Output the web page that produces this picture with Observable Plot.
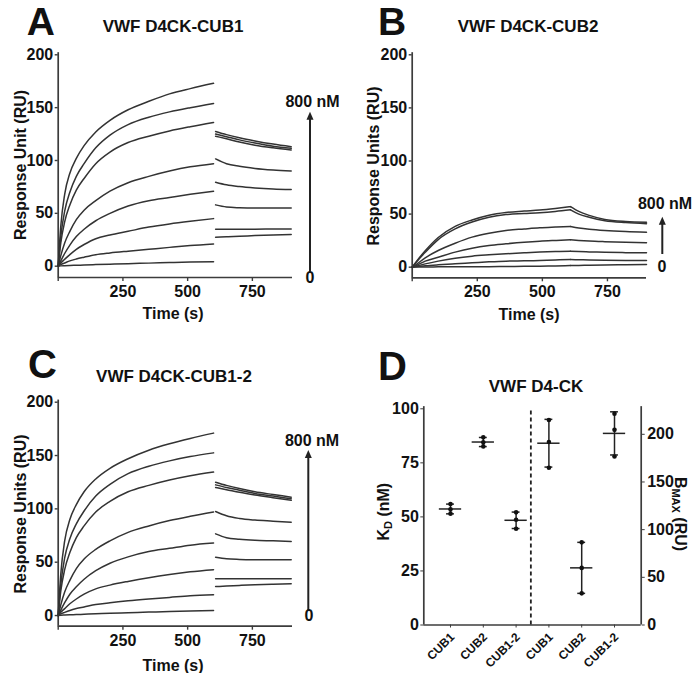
<!DOCTYPE html>
<html><head><meta charset="utf-8">
<script src="https://cdn.jsdelivr.net/npm/d3@7"></script>
<script src="https://cdn.jsdelivr.net/npm/@observablehq/plot@0.6"></script>
<style>
html,body{margin:0;padding:0;background:#fff;}
#fig{position:relative;width:700px;height:673px;overflow:hidden;background:#fff;}
.panel{position:absolute;}
.panel svg{display:block;max-width:none !important;}
#overlay{position:absolute;left:0;top:0;pointer-events:none;}
</style></head><body><div id="fig"></div>
<script>
// ---------- DATA ----------
// Sensorgram time grids (s)
const timeAssoc = [0, 10, 25, 45, 70, 100, 145, 200, 270, 350, 430, 510, 600];
const timeDissoc = [608, 650, 700, 760, 830, 900];
const timeAssocB = [0, 15, 50, 100, 165, 230, 295, 360, 430, 490, 550, 608];
const timeDissocB = [608, 640, 680, 740, 820, 900];

// Panel A: VWF D4CK-CUB1 (highest concentration first)
const cub1Assoc = [
  [0, 38, 68, 88, 102, 114, 127, 138, 148, 156, 163, 168, 173],
  [0, 28, 52, 70, 85, 97, 112, 124, 134, 141, 146, 150, 154],
  [0, 22, 42, 58, 72, 83, 97, 108, 117, 123, 128, 132, 136],
  [0, 10, 22, 33, 44, 53, 62, 71, 79, 85, 90, 94, 97],
  [0, 5, 12, 20, 28, 35, 43, 50, 57, 62, 65, 68, 71],
  [0, 3, 6.5, 11, 16, 20.5, 26, 29.5, 33, 37, 40, 42.5, 45],
  [0, 1.5, 3, 5, 6.8, 8.5, 10.8, 12.5, 14.2, 16, 17.8, 19.5, 21],
  [0, 0.3, 0.5, 0.7, 0.9, 1.1, 1.5, 1.9, 2.4, 2.9, 3.4, 3.9, 4.3]
];
const cub1Dissoc = [
  [127.5, 124.5, 121.5, 118.5, 115.5, 113],
  [125, 122.5, 119.5, 116.5, 113.5, 111.5],
  [123, 120.5, 117.5, 114.5, 112, 110],
  [101.5, 97, 94.5, 92.5, 91, 90],
  [79.5, 77, 75.3, 74, 73, 72.5],
  [58, 56, 55.3, 55, 55, 55],
  [35, 35, 35, 35, 35.2, 35.3],
  [27.4, 27.8, 28.3, 29, 29.6, 30]
];

// Panel B: VWF D4CK-CUB2
const cub2Assoc = [
  [0, 5, 15.5, 28, 38.5, 44.5, 49, 51.5, 52.8, 53.8, 55.3, 57],
  [0, 4.5, 14, 26, 36, 42.5, 47, 49.5, 50.5, 51.3, 52.5, 54],
  [0, 2.5, 8.8, 15.7, 22.6, 28.3, 32, 34.6, 36, 37.1, 37.8, 38.4],
  [0, 1.5, 5.7, 9.4, 14.2, 17.9, 20.4, 22, 23.5, 24.5, 25.2, 25.8],
  [0, 1, 3.1, 5.7, 8.5, 10.4, 11.6, 12.6, 13.5, 14.2, 14.7, 15.1],
  [0, 0.5, 1.3, 2.2, 3.2, 4.1, 5, 5.7, 6, 6.3, 6.8, 7.2],
  [0, 0.1, 0.2, 0.3, 0.3, 0.3, 0.5, 0.7, 0.8, 0.9, 1.2, 1.6]
];
const cub2Dissoc = [
  [57, 52.5, 48.8, 45, 43, 42.3],
  [54, 50, 47, 43.8, 42, 41],
  [38.4, 37, 35.8, 34.6, 33.6, 33],
  [25.8, 25.2, 24.6, 24, 23.4, 23],
  [15.1, 14.7, 14.4, 14, 13.7, 13.5],
  [7.2, 7, 6.8, 6.6, 6.4, 6.3],
  [1.6, 1.7, 1.9, 2.1, 2.3, 2.5]
];

// Panel C: VWF D4CK-CUB1-2
const cub12Assoc = [
  [0, 39, 70, 90, 104, 116, 128, 138, 147, 155, 161, 166, 171],
  [0, 29, 54, 72, 86, 98, 112, 123, 133, 140, 145, 149, 152.5],
  [0, 23, 43, 59, 73, 84, 97, 107, 116, 122, 127, 131, 134.5],
  [0, 10, 22, 33, 44, 53, 62, 70, 78, 84, 89, 93, 97],
  [0, 5, 12, 20, 27, 34, 42, 49, 55, 60, 63, 66, 68],
  [0, 3, 6.5, 11, 15.5, 20, 25, 28.5, 32, 35.5, 38.5, 41, 43],
  [0, 1.5, 3, 4.8, 6.5, 8, 10.3, 12, 13.8, 15.5, 17, 18.5, 19.5],
  [0, 0.3, 0.5, 0.7, 0.9, 1.2, 1.6, 2.1, 2.6, 3.2, 3.8, 4.3, 4.7]
];
const cub12Dissoc = [
  [125, 122, 119, 116, 113.5, 111],
  [122.5, 120, 117.5, 114.5, 112, 109.5],
  [120, 118, 115.5, 113, 110.5, 108],
  [97.5, 93.5, 91, 89.5, 88.5, 87.5],
  [76.6, 73, 71.5, 70.5, 70, 69.4],
  [54.7, 53.2, 52.6, 52.3, 52.2, 52.2],
  [34.4, 34.4, 34.4, 34.5, 34.5, 34.5],
  [27.2, 27.6, 28.2, 28.8, 29.3, 29.7]
];

const timeTicks = [0, 250, 500, 750];
const ruTicks = [0, 50, 100, 150, 200];

// Panel D: replicate KD (nM) and BMAX (RU)
const dCategories = ["CUB1", "CUB2", "CUB1-2", "CUB1", "CUB2", "CUB1-2"];
const kdCUB1 = [56, 53.5, 51.5];
const kdCUB2 = [86.8, 84.5, 82.6];
const kdCUB12 = [52.1, 48.7, 44.5];
const bmaxCUB1 = [215, 192, 165];
const bmaxCUB2 = [86.7, 59.9, 33.2];
const bmaxCUB12 = [221.5, 204.7, 176.7];
const kdTicks = [0, 25, 50, 75, 100];
const bmaxTicks = [0, 50, 100, 150, 200];

// ---------- STYLE ----------
const FONT = '"Liberation Sans", Arial, Helvetica, sans-serif';
const INK = "#111";
const AXIS = "#3c3c3c";
const CURVE = "#333";

const fig = document.getElementById("fig");
function place(node, left, top) {
  const d = document.createElement("div");
  d.className = "panel";
  d.style.left = left + "px";
  d.style.top = top + "px";
  d.appendChild(node);
  fig.appendChild(d);
}

function sensorPanel({assoc, dissoc, tA, tD, width, height, ml, mr, mt, mb, xMax, yMin}) {
  const rows = [];
  assoc.forEach((vals, k) => vals.forEach((v, j) => rows.push({t: tA[j], ru: v, s: "a" + k})));
  dissoc.forEach((vals, k) => vals.forEach((v, j) => rows.push({t: tD[j], ru: v, s: "d" + k})));
  return Plot.plot({
    width, height,
    marginLeft: ml, marginRight: mr, marginTop: mt, marginBottom: mb,
    x: {domain: [0, xMax]},
    y: {domain: [yMin, 200]},
    style: {fontFamily: FONT, fontSize: "16px", fontWeight: "bold", color: INK, background: "transparent", overflow: "visible"},
    marks: [
      Plot.ruleX([0], {y1: yMin, y2: 202, stroke: AXIS, strokeWidth: 1.7}),
      Plot.ruleY([yMin], {x1: 0, x2: xMax, stroke: AXIS, strokeWidth: 1.7}),
      Plot.axisY({ticks: ruTicks, tickSize: 3, tickPadding: 2, label: null, stroke: AXIS, strokeWidth: 1.4, fontSize: 16, fontWeight: "bold"}),
      Plot.axisX({ticks: timeTicks, tickFormat: d => d === 0 ? "" : d, tickSize: 4, tickPadding: 4, label: null, stroke: AXIS, strokeWidth: 1.4, fontSize: 16, fontWeight: "bold"}),
      Plot.line(rows, {x: "t", y: "ru", z: "s", curve: "monotone-x", stroke: CURVE, strokeWidth: 1.5})
    ]
  });
}

place(sensorPanel({assoc: cub1Assoc, dissoc: cub1Dissoc, tA: timeAssoc, tD: timeDissoc,
  width: 350, height: 330, ml: 57.7, mr: 58, mt: 54.3, mb: 53, xMax: 905, yMin: -10.7}), 0, 0);
place(sensorPanel({assoc: cub2Assoc, dissoc: cub2Dissoc, tA: timeAssocB, tD: timeDissocB,
  width: 350, height: 330, ml: 61.7, mr: 54, mt: 54.3, mb: 52.7, xMax: 900, yMin: -10}), 350, 0);
place(sensorPanel({assoc: cub12Assoc, dissoc: cub12Dissoc, tA: timeAssoc, tD: timeDissoc,
  width: 350, height: 343, ml: 57.7, mr: 58, mt: 71.7, mb: 47.3, xMax: 905, yMin: -10}), 0, 330);

// ---------- Panel D ----------
const K = 0.441;            // right-axis RU -> left-axis units
const XLO = 0.186, XHI = 6.814;
const groups = [kdCUB1, kdCUB2, kdCUB12, bmaxCUB1, bmaxCUB2, bmaxCUB12];
const dPoints = [];
const dSummary = [];
groups.forEach((vals, g) => {
  const f = g < 3 ? 1 : K;
  const scaled = vals.map(v => v * f);
  scaled.forEach(v => dPoints.push({i: g + 1, v}));
  dSummary.push({i: g + 1, mean: d3.mean(scaled), sd: d3.deviation(scaled)});
});
const dTickPos = dCategories.map((_, i) => i + 1);

const plotD = Plot.plot({
  width: 350, height: 343,
  marginLeft: 73.3, marginRight: 59.3, marginTop: 78.3, marginBottom: 48.5,
  x: {domain: [XLO, XHI]},
  y: {domain: [0, 100]},
  style: {fontFamily: FONT, fontSize: "16px", fontWeight: "bold", color: INK, background: "transparent", overflow: "visible"},
  marks: [
    Plot.ruleX([XLO], {y1: 0, y2: 101, stroke: AXIS, strokeWidth: 1.7}),
    Plot.ruleX([XHI], {y1: 0, y2: 101, stroke: AXIS, strokeWidth: 1.7}),
    Plot.ruleY([0], {x1: XLO, x2: XHI, stroke: AXIS, strokeWidth: 1.7}),
    Plot.ruleX([3.45], {y1: 0, y2: 100, stroke: "#222", strokeWidth: 1.8, strokeDasharray: "4,3"}),
    Plot.axisY({ticks: kdTicks, anchor: "left", tickSize: 3, tickPadding: 2, label: null, stroke: AXIS, fontSize: 16, fontWeight: "bold"}),
    Plot.axisY({ticks: bmaxTicks.map(v => v * K), anchor: "right", tickFormat: v => Math.round(v / K), tickSize: 3, tickPadding: 3, label: null, stroke: AXIS, fontSize: 16, fontWeight: "bold"}),
    Plot.axisX({ticks: dTickPos, tickFormat: () => "", tickSize: 3, label: null, stroke: AXIS}),
    Plot.text(dTickPos, {x: d => d, text: d => dCategories[d - 1], frameAnchor: "bottom", rotate: -45,
      textAnchor: "end", lineAnchor: "middle", dx: 2, dy: 10, fontSize: 12, fontWeight: "bold", fill: INK}),
    Plot.ruleX(dSummary, {x: "i", y1: d => d.mean - d.sd, y2: d => d.mean + d.sd, stroke: "#222", strokeWidth: 1.5}),
    Plot.ruleY(dSummary, {y: d => d.mean + d.sd, x1: d => d.i - 0.12, x2: d => d.i + 0.12, stroke: "#222", strokeWidth: 1.5}),
    Plot.ruleY(dSummary, {y: d => d.mean - d.sd, x1: d => d.i - 0.12, x2: d => d.i + 0.12, stroke: "#222", strokeWidth: 1.5}),
    Plot.ruleY(dSummary, {y: "mean", x1: d => d.i - 0.34, x2: d => d.i + 0.34, stroke: "#222", strokeWidth: 1.5}),
    Plot.dot(dPoints, {x: "i", y: "v", r: 2.3, fill: "#111", stroke: "none"})
  ]
});
place(plotD, 350, 330);

// ---------- Overlay text & annotations ----------
const ov = d3.select(fig).append("svg").attr("id", "overlay")
  .attr("width", 700).attr("height", 673)
  .style("font-family", FONT).style("font-weight", "bold").attr("fill", INK);

function text(x, y, str, size, {anchor = "middle", baseline = "central", rotate = 0} = {}) {
  const t = ov.append("text").attr("font-size", size).attr("text-anchor", anchor)
    .attr("dominant-baseline", baseline)
    .attr("transform", `translate(${x},${y}) rotate(${rotate})`);
  t.text(str);
  return t;
}
// panel letters
text(26.7, 35.4, "A", 39, {anchor: "start", baseline: "alphabetic"});
text(378, 35.4, "B", 39, {anchor: "start", baseline: "alphabetic"});
text(28, 378, "C", 40, {anchor: "start", baseline: "alphabetic"});
text(378, 380, "D", 40, {anchor: "start", baseline: "alphabetic"});
// titles
text(173, 26.7, "VWF D4CK-CUB1", 17);
text(528, 26, "VWF D4CK-CUB2", 17);
text(174, 376.7, "VWF D4CK-CUB1-2", 17);
text(536, 386, "VWF D4-CK", 17);
// axis labels
text(20, 165, "Response Unit (RU)", 16, {rotate: -90});
text(373, 166, "Response Units (RU)", 16, {rotate: -90});
text(20, 514, "Response Units (RU)", 16, {rotate: -90});
text(173, 313, "Time (s)", 16);
text(529, 314, "Time (s)", 16);
text(173, 665, "Time (s)", 16);
// K_D label
const kd = ov.append("text").attr("font-size", 16).attr("text-anchor", "middle")
  .attr("dominant-baseline", "central").attr("transform", "translate(383,511.7) rotate(-90)");
kd.append("tspan").text("K");
kd.append("tspan").attr("font-size", 11).attr("dy", 5).text("D");
kd.append("tspan").attr("dy", -5).text(" (nM)");
// B_MAX label
const bm = ov.append("text").attr("font-size", 16).attr("text-anchor", "middle")
  .attr("dominant-baseline", "central").attr("transform", "translate(681,514) rotate(90)");
bm.append("tspan").text("B");
bm.append("tspan").attr("font-size", 11).attr("dy", 5).text("MAX");
bm.append("tspan").attr("dy", -5).text(" (RU)");

// concentration arrows
function concArrow(x, yBottom, yTop, labelTopY, labelX, zeroX, zeroY) {
  ov.append("line").attr("x1", x).attr("x2", x).attr("y1", yBottom).attr("y2", yTop + 6)
    .attr("stroke", "#222").attr("stroke-width", 2);
  ov.append("path").attr("d", `M${x - 3.5},${yTop + 8} L${x},${yTop} L${x + 3.5},${yTop + 8} Z`).attr("fill", "#222");
  text(labelX, labelTopY, "800 nM", 16);
  text(zeroX, zeroY, "0", 16);
}
concArrow(310, 271.7, 111.7, 101, 312.5, 310, 277.5);
concArrow(662.3, 254, 216.7, 203.5, 665, 662, 266.7);
concArrow(308.3, 610, 450, 440, 312, 309, 615);
</script></body></html>
